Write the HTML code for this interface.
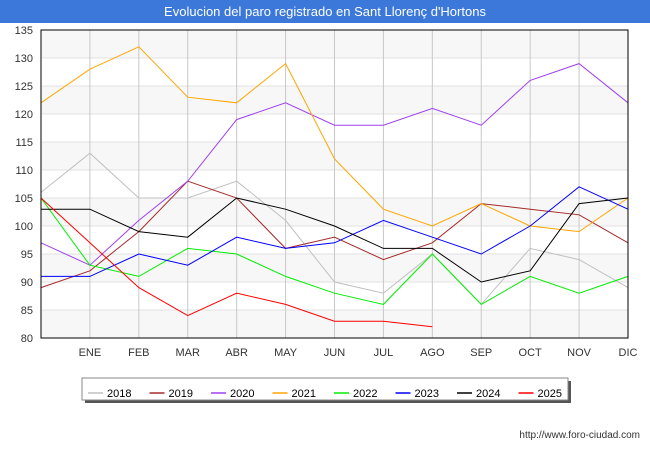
<!DOCTYPE html>
<html><head><meta charset="utf-8"><style>
body{margin:0;width:650px;height:450px;background:#fff;font-family:"Liberation Sans",sans-serif;overflow:hidden}
#title{position:absolute;left:0;top:0;width:650px;height:23px;background:#3b78d9;color:#fff;font-size:13px;text-align:center;line-height:23px}
</style></head><body>
<div id="title">Evolucion del paro registrado en Sant Llorenç d'Hortons</div>
<svg id="chart" width="650" height="450" style="position:absolute;left:0;top:0"></svg>
<script>
const months=["","ENE","FEB","MAR","ABR","MAY","JUN","JUL","AGO","SEP","OCT","NOV","DIC"];
const yTicks=[80,85,90,95,100,105,110,115,120,125,130,135];
const years=["2018","2019","2020","2021","2022","2023","2024","2025"];
const colors=["#c0c0c0","#a52a2a","#a040f0","#ffa500","#00ee00","#0000ff","#000000","#ff0000"];
const s2018=[106,113,105,105,108,101,90,88,95,86,96,94,89];
const s2019=[89,92,99,108,105,96,98,94,97,104,103,102,97];
const s2020=[97,93,101,108,119,122,118,118,121,118,126,129,122];
const s2021=[122,128,132,123,122,129,112,103,100,104,100,99,105];
const s2022=[105,93,91,96,95,91,88,86,95,86,91,88,91];
const s2023=[91,91,95,93,98,96,97,101,98,95,100,107,103];
const s2024=[103,103,99,98,105,103,100,96,96,90,92,104,105];
const s2025=[105,97,89,84,88,86,83,83,82];
const series=[s2018,s2019,s2020,s2021,s2022,s2023,s2024,s2025];
const NS="http://www.w3.org/2000/svg";
const svg=document.getElementById('chart');
const X0=41,X1=628,Y0=338,Y1=30;
const x=i=>X0+i*(X1-X0)/12;
const y=v=>Y0-(v-80)*(Y0-Y1)/55;
function mk(t,a,p){const e=document.createElementNS(NS,t);for(const k in a)e.setAttribute(k,a[k]);(p||svg).appendChild(e);return e;}
for(let i=0;i<yTicks.length-1;i++){
 if(i%2==0){const r=mk('rect',{x:X0,y:y(yTicks[i+1]),width:X1-X0,height:y(yTicks[i])-y(yTicks[i+1]),fill:'#f7f7f7'});
 
 }
}
yTicks.forEach(v=>{
 const l=mk('line',{x1:X0,x2:X1,y1:y(v),y2:y(v),stroke:'#e0e0e0','stroke-width':1});
 
 
 const t=mk('text',{x:33,y:y(v)+4,'text-anchor':'end','font-size':11,fill:'#333'});
 t.textContent=v;
 
 
});
months.forEach((m,i)=>{
 if(i>0){const l=mk('line',{x1:x(i),x2:x(i),y1:Y1,y2:Y0,stroke:'#c8c8c8','stroke-width':1});
 
 }
 const t=mk('text',{x:x(i),y:356,'text-anchor':'middle','font-size':11,fill:'#333'});
 t.textContent=m;
 
 
});
series.forEach((s,k)=>{
 const p=mk('polyline',{points:s.map((v,i)=>x(i)+','+y(v)).join(' '),fill:'none',stroke:colors[k],'stroke-width':1});
 
 
});
const fr=mk('rect',{x:X0,y:Y1,width:X1-X0,height:Y0-Y1,fill:'none',stroke:'#000','stroke-width':1});


const sh=mk('rect',{x:85,y:381,width:486,height:22,fill:'#555'});


const lg=mk('rect',{x:82,y:378,width:486,height:22,fill:'#fff',stroke:'#888'});


years.forEach((yr,k)=>{
 const lx=88+k*61.5;
 const l=mk('line',{x1:lx,x2:lx+15,y1:393,y2:393,stroke:colors[k],'stroke-width':1.5});
 
 
 const t=mk('text',{x:lx+19,y:397,'font-size':11,fill:'#000'});
 t.textContent=yr;
 
 
});
const u=mk('text',{x:640,y:438,'text-anchor':'end','font-size':10,fill:'#333'});
u.textContent='http://www.foro-ciudad.com';


</script>
</body></html>
